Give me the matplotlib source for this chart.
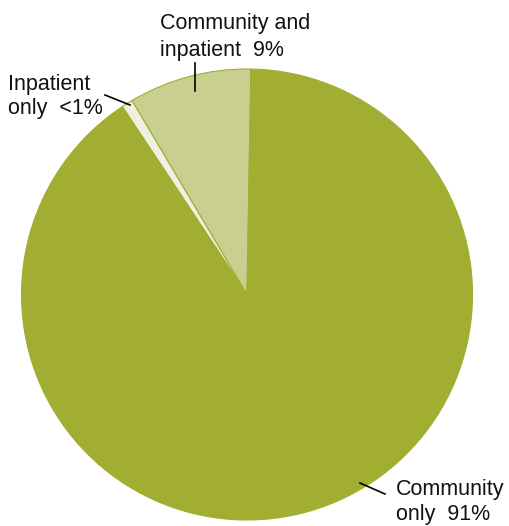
import matplotlib.pyplot as plt

# Share of patients by where they were treated
labels = ["Community and\ninpatient  9%", "Inpatient\nonly  <1%", "Community\nonly  91%"]
shares = [8.8, 0.8, 90.4]
colors = ["#c9cf8f", "#eef0e2", "#a1ae32"]

plt.rcParams["font.family"] = ["Liberation Sans", "DejaVu Sans"]

W, H = 509, 526
fig = plt.figure(figsize=(W / 100, H / 100), dpi=100)
ax = fig.add_axes([0, 0, 1, 1])

# pie centre and radius in pixels, everything else placed in pixel terms
cx, cy, r = 247, 294.5, 225.5


def px(x, y):
    return (x - cx) / r, (cy - y) / r


ax.axis("off")
ax.pie(shares, colors=colors, startangle=89, counterclock=True,
       radius=1, center=(0, 0), frame=False,
       wedgeprops=dict(edgecolor="#a1ae32", linewidth=0.8))
ax.set_xlim(-cx / r, (W - cx) / r)
ax.set_ylim(-(H - cy) / r, cy / r)
ax.set_aspect("auto")

# label text, one line at a time so the baselines sit where wanted
label_pos = [(160, [29, 56]), (8, [90, 114]), (396, [495, 520])]
for text, (x, bases) in zip(labels, label_pos):
    for line, yb in zip(text.split("\n"), bases):
        ax.text(*px(x, yb), line, fontsize=15.5, ha="left", va="baseline", color="#111111")

# leader lines
leaders = [((195, 63), (195, 91)), ((105, 95), (130, 105)), ((360, 483), (385, 494))]
for (x0, y0), (x1, y1) in leaders:
    p0, p1 = px(x0, y0), px(x1, y1)
    ax.plot([p0[0], p1[0]], [p0[1], p1[1]], color="black", linewidth=1.2)

fig.savefig("out.png", dpi=100)
